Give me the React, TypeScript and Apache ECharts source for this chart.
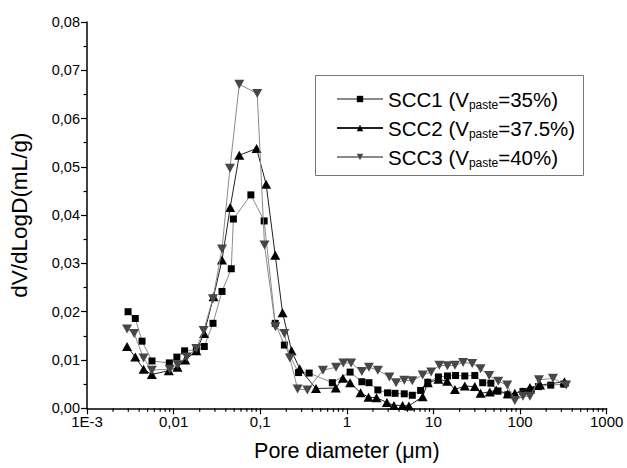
import React, { useEffect, useRef } from "react";
import * as echarts from "echarts";

const FONT = "'Liberation Sans', Arial, sans-serif";

const SERIES_NAMES = ["SCC1", "SCC2", "SCC3"];
const LEGEND_LABELS: Record<string, [string, string, string]> = {
  SCC1: ["SCC1 (V", "paste", "=35%)"],
  SCC2: ["SCC2 (V", "paste", "=37.5%)"],
  SCC3: ["SCC3 (V", "paste", "=40%)"],
};

const scc1: [number, number][] = [
  [0.00298, 0.0200], [0.00361, 0.0186], [0.00432, 0.0139], [0.00563, 0.0098],
  [0.00892, 0.0094], [0.0109, 0.0106], [0.0134, 0.0119], [0.0183, 0.0121],
  [0.0226, 0.0128], [0.0285, 0.0176], [0.0362, 0.0242], [0.0463, 0.0289],
  [0.049, 0.0392], [0.078, 0.0442], [0.111, 0.0388], [0.149, 0.0176],
  [0.19, 0.0131], [0.277, 0.0074], [0.367, 0.0073], [0.68, 0.0053],
  [1.09, 0.0075], [1.49, 0.0055], [1.8, 0.0053], [2.28, 0.0038],
  [2.95, 0.0032], [3.6, 0.0031], [4.6, 0.0030], [5.7, 0.0027],
  [7.1, 0.0037], [8.6, 0.0054], [11.4, 0.0065], [14.5, 0.0067],
  [18, 0.0068], [23, 0.0067], [30, 0.0068], [37, 0.0053],
  [46, 0.0052], [55.6, 0.0036], [72, 0.0028], [108, 0.0035],
  [134, 0.0037], [163, 0.0045], [226, 0.0048], [320, 0.0050],
];

const scc2: [number, number][] = [
  [0.0029, 0.0128], [0.00361, 0.0106], [0.0045, 0.0081], [0.0056, 0.0070],
  [0.0088, 0.0078], [0.0111, 0.0085], [0.0136, 0.0100], [0.0183, 0.0119],
  [0.0225, 0.0155], [0.0289, 0.0231], [0.0362, 0.0307], [0.045, 0.0416],
  [0.0573, 0.0524], [0.0907, 0.0538], [0.117, 0.0464], [0.149, 0.0317],
  [0.181, 0.0198], [0.23, 0.0119], [0.285, 0.0082], [0.44, 0.0041],
  [0.745, 0.0042], [0.9, 0.0062], [1.09, 0.0053], [1.44, 0.0032],
  [1.78, 0.0023], [2.2, 0.0022], [2.9, 0.0012], [3.5, 0.0006],
  [4.4, 0.0006], [5.2, 0.0005], [7.5, 0.0024], [8.6, 0.0053],
  [11.4, 0.0060], [14.4, 0.0056], [17.7, 0.0039], [23, 0.0046],
  [30, 0.0045], [35, 0.0031], [44.7, 0.0034], [53, 0.0038],
  [72, 0.0030], [87, 0.0031], [130, 0.0043], [170, 0.0048],
  [325, 0.0055],
];

const scc3: [number, number][] = [
  [0.0029, 0.0164], [0.0035, 0.0155], [0.0045, 0.0104], [0.0056, 0.0079],
  [0.0090, 0.0081], [0.0111, 0.0090], [0.0142, 0.0106], [0.0183, 0.0124],
  [0.0222, 0.0161], [0.0284, 0.0227], [0.0362, 0.0330], [0.0447, 0.0497],
  [0.0573, 0.0671], [0.0923, 0.0652], [0.112, 0.0338], [0.15, 0.0169],
  [0.19, 0.0155], [0.22, 0.0104], [0.27, 0.0040], [0.35, 0.0038],
  [0.53, 0.0079], [0.75, 0.0085], [0.91, 0.0094], [1.12, 0.0094],
  [1.49, 0.0076], [1.8, 0.0085], [2.28, 0.0079], [3.1, 0.0065],
  [3.7, 0.0053], [4.6, 0.0058], [5.7, 0.0057], [7.5, 0.0069],
  [9.4, 0.0075], [11.7, 0.0089], [14.5, 0.0088], [17.7, 0.0089],
  [22, 0.0095], [28, 0.0093], [35, 0.0082], [44, 0.0068],
  [56, 0.0056], [71, 0.0048], [87, 0.0016], [108, 0.0025],
  [130, 0.0025], [165, 0.0059], [240, 0.0062], [340, 0.0048],
];

const X_MIN = 0.001;
const X_MAX = 1000;
const Y_MIN = 0;
const Y_MAX = 0.08;
const Y_INTERVAL = 0.01;
const X_MINOR_MULTIPLIERS = [2, 3, 4, 5, 6, 7, 8, 9];
const X_DECADES = [0.001, 0.01, 0.1, 1, 10, 100];

function formatX(v: number): string {
  const n = Number(v.toPrecision(6));
  if (n < 0.0015) return "1E-3";
  return String(n).replace(".", ",");
}

export default function App() {
  const ref = useRef<HTMLDivElement>(null);

  useEffect(() => {
    document.body.style.margin = "0";
    if (!ref.current) return;
    const chart = echarts.init(ref.current, undefined, { renderer: "svg" });

    const minorTicks: number[][] = [];
    X_DECADES.forEach((d) =>
      X_MINOR_MULTIPLIERS.forEach((m) => minorTicks.push([Number((d * m).toPrecision(6)), Y_MIN]))
    );

    const option: echarts.EChartsCoreOption = {
      animation: false,
      backgroundColor: "#fff",
      textStyle: { fontFamily: FONT },
      grid: { left: 86.6, right: 20.3, top: 22, bottom: 59.7, containLabel: false },
      xAxis: {
        type: "log",
        logBase: 10,
        min: X_MIN,
        max: X_MAX,
        name: "Pore diameter (\u03bcm)",
        nameLocation: "middle",
        nameGap: 32,
        nameTextStyle: { fontSize: 21.5, color: "#000", fontFamily: FONT },
        axisLine: { show: true, lineStyle: { color: "#000", width: 1.5 } },
        axisTick: { show: true, length: 6, lineStyle: { color: "#000", width: 1.2 } },
        axisLabel: {
          color: "#000",
          fontSize: 15,
          fontFamily: FONT,
          margin: 6,
          formatter: (v: number) => formatX(v),
        },
        splitLine: { show: false },
        minorTick: { show: false },
      },
      yAxis: {
        type: "value",
        min: Y_MIN,
        max: Y_MAX,
        interval: Y_INTERVAL,
        name: "dV/dLogD(mL/g)",
        nameLocation: "middle",
        nameGap: 56,
        nameRotate: 90,
        nameTextStyle: { fontSize: 22.5, color: "#000", fontFamily: FONT },
        axisLine: { show: true, lineStyle: { color: "#000", width: 1.5 } },
        axisTick: { show: true, length: 6, lineStyle: { color: "#000", width: 1.2 } },
        minorTick: { show: true, splitNumber: 2, length: 3.5, lineStyle: { color: "#000", width: 1.2 } },
        axisLabel: {
          color: "#000",
          fontSize: 14.5,
          fontFamily: FONT,
          margin: 7,
          formatter: (v: number) => v.toFixed(2).replace(".", ","),
        },
        splitLine: { show: false },
      },
      graphic: [
        {
          type: "rect",
          left: 313,
          top: 73,
          shape: { width: 268, height: 100 },
          style: { fill: "none", stroke: "#777", lineWidth: 1 },
          z: 100,
        },
      ],
      legend: {
        data: SERIES_NAMES,
        orient: "vertical",
        left: 331,
        top: 82,
        itemWidth: 46,
        itemHeight: 8,
        itemGap: 5,
        formatter: (name: string) => {
          const p = LEGEND_LABELS[name];
          return `{a|${p[0]}}{s|${p[1]}}{a|${p[2]}}`;
        },
        textStyle: {
          fontFamily: FONT,
          color: "#000",
          rich: {
            a: { fontSize: 20.5, lineHeight: 24, fontFamily: FONT, color: "#000" },
            s: { fontSize: 12, lineHeight: 12, padding: [12, 0, 0, 0], fontFamily: FONT, color: "#000" },
          },
        },
      },
      series: [
        {
          name: "SCC1",
          type: "line",
          data: scc1,
          symbol: "rect",
          symbolSize: 7,
          itemStyle: { color: "#000" },
          lineStyle: { color: "#8a8a8a", width: 1 },
          z: 3,
        },
        {
          name: "SCC2",
          type: "line",
          data: scc2,
          symbol: "triangle",
          symbolSize: [10, 9],
          itemStyle: { color: "#000" },
          lineStyle: { color: "#222", width: 1 },
          z: 4,
        },
        {
          name: "SCC3",
          type: "line",
          data: scc3,
          symbol: "path://M0,0L10,0L5,9Z",
          symbolSize: [10, 9],
          itemStyle: { color: "#474747" },
          lineStyle: { color: "#8a8a8a", width: 1 },
          z: 5,
        },
        {
          name: "xMinorTicks",
          type: "custom",
          data: minorTicks,
          clip: false,
          silent: true,
          z: 6,
          renderItem: (_params: any, api: any) => {
            const p = api.coord([api.value(0), api.value(1)]);
            return {
              type: "line",
              shape: { x1: p[0], y1: p[1], x2: p[0], y2: p[1] + 3.5 },
              style: { stroke: "#000", lineWidth: 1.2 },
            };
          },
        },
      ],
    };

    chart.setOption(option);
    return () => chart.dispose();
  }, []);

  return <div ref={ref} style={{ width: 627, height: 468 }} />;
}
